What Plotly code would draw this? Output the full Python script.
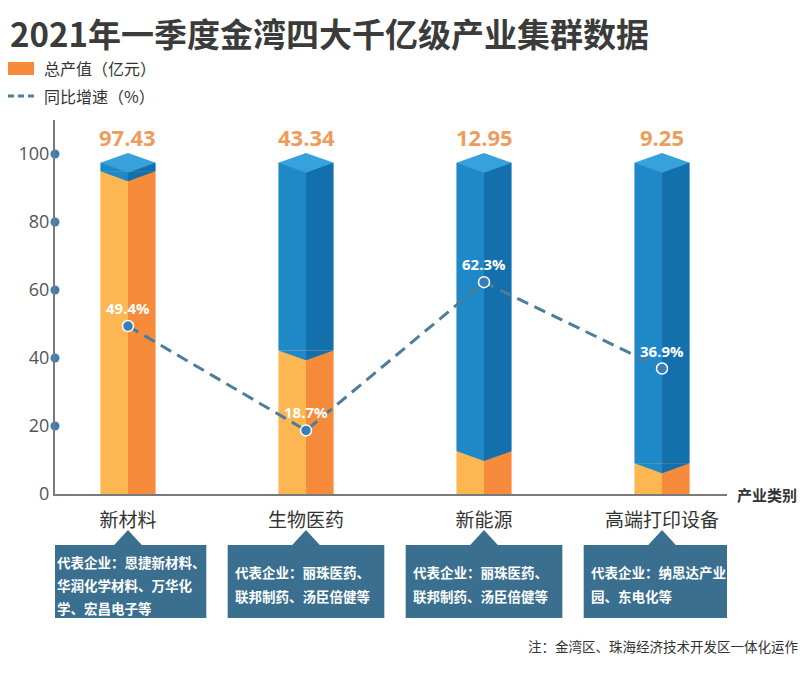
import plotly.graph_objects as go

# ---------------- data ----------------
categories = ["新材料", "生物医药", "新能源", "高端打印设备"]
output_value = [97.43, 43.34, 12.95, 9.25]          # 总产值（亿元）
output_labels = ["97.43", "43.34", "12.95", "9.25"]
growth_rate = [49.4, 18.7, 62.3, 36.9]               # 同比增速（%）
growth_labels = ["49.4%", "18.7%", "62.3%", "36.9%"]
y_ticks = [0, 20, 40, 60, 80, 100]
tick_dots = [20, 40, 60, 80, 100]
enterprises = [
    ["代表企业：恩捷新材料、", "华润化学材料、万华化", "学、宏昌电子等"],
    ["代表企业：丽珠医药、", "联邦制药、汤臣倍健等"],
    ["代表企业：丽珠医药、", "联邦制药、汤臣倍健等"],
    ["代表企业：纳思达产业", "园、东电化等"],
]
title_text = "2021年一季度金湾四大千亿级产业集群数据"
note_text = "注：金湾区、珠海经济技术开发区一体化运作"

# ---------------- style ----------------
FONT = "Noto Sans CJK SC, Noto Sans, sans-serif"
NUMFONT = "Open Sans, Noto Sans, sans-serif"
COL_H = 97.4        # height of the column "tube"
DEPTH = 2.9         # isometric depth (y units)
BAR_W = 0.31
HALF = BAR_W / 2
ORANGE_L, ORANGE_R = "#FDB752", "#F68B3B"
BLUE_L, BLUE_R, BLUE_TOP = "#1F88C7", "#1470AD", "#36A1DA"
LINE_C, DOT_C = "#4C7E9B", "#3B7DB6"
BOX_C = "#3A6F90"
X_RANGE = [-0.41, 3.365]
Y_RANGE = [0, 110]
OFF = 8  # page body offset of the figure div

xs = list(range(len(categories)))
left_x = [i - HALF / 2 for i in xs]
right_x = [i + HALF / 2 for i in xs]
orange_h = [v / 100 * COL_H for v in output_value]
blue_h = [COL_H - o for o in orange_h]

fig = go.Figure()
for xpos, oc, bc in [(left_x, ORANGE_L, BLUE_L), (right_x, ORANGE_R, BLUE_R)]:
    fig.add_trace(go.Bar(x=xpos, y=orange_h, width=HALF, marker=dict(color=oc, line=dict(width=0)),
                         hoverinfo="skip"))
    fig.add_trace(go.Bar(x=xpos, y=blue_h, base=orange_h, width=HALF,
                         marker=dict(color=bc, line=dict(width=0)), hoverinfo="skip"))

shapes = []
for i, o in zip(xs, orange_h):
    xl, xc, xr = i - HALF, i, i + HALF
    shapes.append(dict(type="path", xref="x", yref="y", layer="above",
                       path=f"M {xl},{o} L {xc},{o} L {xc},{o - DEPTH} Z",
                       fillcolor=BLUE_L, line=dict(width=0)))
    shapes.append(dict(type="path", xref="x", yref="y", layer="above",
                       path=f"M {xc},{o} L {xr},{o} L {xc},{o - DEPTH} Z",
                       fillcolor=BLUE_R, line=dict(width=0)))
    shapes.append(dict(type="path", xref="x", yref="y", layer="above",
                       path=f"M {xl},{COL_H} L {xc},{COL_H + DEPTH} L {xr},{COL_H} L {xc},{COL_H - DEPTH} Z",
                       fillcolor=BLUE_TOP, line=dict(width=0)))

# tick dots on y axis
fig.add_trace(go.Scatter(x=[X_RANGE[0]] * len(tick_dots), y=tick_dots, mode="markers",
                         marker=dict(size=9, color=DOT_C), cliponaxis=False, hoverinfo="skip"))

# growth line
fig.add_trace(go.Scatter(x=xs, y=growth_rate, mode="lines+markers",
                         line=dict(color=LINE_C, width=3, dash="12px,7px"),
                         marker=dict(size=11, color=DOT_C, line=dict(color="white", width=1.5)),
                         cliponaxis=False, hoverinfo="skip"))

annotations = []
for i, lab in zip(xs, output_labels):
    annotations.append(dict(x=i, y=COL_H + DEPTH, xref="x", yref="y", text=f"<b>{lab}</b>",
                            showarrow=False, yanchor="bottom", yshift=-1,
                            font=dict(family=NUMFONT, size=22, color="#EE9C5C")))
for i, g, lab in zip(xs, growth_rate, growth_labels):
    annotations.append(dict(x=i, y=g, xref="x", yref="y", text=lab, showarrow=False,
                            yanchor="bottom", yshift=6,
                            font=dict(family=NUMFONT, size=15, color="white", weight="bold")))

annotations.append(dict(x=1, y=0, xref="paper", yref="y", xanchor="left", yanchor="middle",
                        xshift=8, text="<b>产业类别</b>", showarrow=False,
                        font=dict(family=FONT, size=15, color="#333333")))

# screen-pixel helpers (screen coordinates of the plot area)
PW, PH, PL, PB = 672.0, 374.0, 55.0, 494.0
UNIT_PX = PW / (X_RANGE[1] - X_RANGE[0])
def px(xp):
    return (xp - PL) / PW
def py(yp):
    return (PB - yp) / PH

# legend (manual)
shapes.append(dict(type="rect", xref="paper", yref="paper", x0=px(8), x1=px(34), y0=py(75), y1=py(62),
                   fillcolor="#F7893A", line=dict(width=0)))
shapes.append(dict(type="line", xref="paper", yref="paper", x0=px(8), x1=px(35), y0=py(96), y1=py(96),
                   line=dict(color=LINE_C, width=3, dash="6px,4px")))
annotations.append(dict(x=px(42), y=py(68), xref="paper", yref="paper", xanchor="left", yanchor="middle",
                        text="总产值（亿元）", showarrow=False, font=dict(family=FONT, size=16, color="#333333")))
annotations.append(dict(x=px(42), y=py(96), xref="paper", yref="paper", xanchor="left", yanchor="middle",
                        text="同比增速（%）", showarrow=False, font=dict(family=FONT, size=16, color="#333333")))

# callout boxes
BOX_HALF = 0.44
for i, lines in zip(xs, enterprises):
    shapes.append(dict(type="rect", xref="x", yref="paper", x0=i - BOX_HALF, x1=i + BOX_HALF,
                       y0=py(618), y1=py(545), fillcolor=BOX_C, line=dict(width=0)))
    shapes.append(dict(type="path", xref="x", yref="paper",
                       path=f"M {i - 0.08},{py(545.5)} L {i},{py(530)} L {i + 0.08},{py(545.5)} Z",
                       fillcolor=BOX_C, line=dict(width=0)))
    ys = [562, 585, 608] if len(lines) == 3 else [572, 596]
    for t, yy in zip(lines, ys):
        annotations.append(dict(x=i, y=py(yy), xref="x", yref="paper", xanchor="left",
                                yanchor="middle", xshift=-BOX_HALF * UNIT_PX + 5, text=t, showarrow=False,
                                font=dict(family=FONT, size=13.5, color="white", weight="bold")))

annotations.append(dict(x=px(800), y=py(646), xref="paper", yref="paper", xanchor="right",
                        yanchor="middle", text=note_text, showarrow=False,
                        font=dict(family=FONT, size=13.5, color="#333333")))

fig.update_layout(
    width=812, height=674, autosize=False,
    margin=dict(l=PL - OFF, r=812 - (PL + PW) + OFF, t=(PB - PH) - OFF, b=674 - PB + OFF),
    paper_bgcolor="white", plot_bgcolor="white",
    barmode="overlay", showlegend=False,
    title=dict(text=f"<b>{title_text}</b>", x=(10 - OFF) / 812, xanchor="left", xref="container",
               y=1 - (35 - OFF) / 674, yanchor="middle", yref="container",
               font=dict(family=FONT, size=33, color="#3B3B3B")),
    xaxis=dict(range=X_RANGE, tickvals=xs, ticktext=categories, showgrid=False, zeroline=False,
               showline=True, linecolor="#7A7A7A", linewidth=2, ticks="", ticklabelstandoff=8,
               tickfont=dict(family=FONT, size=19, color="#333333"), fixedrange=True),
    yaxis=dict(range=Y_RANGE, tickvals=y_ticks, showgrid=False, zeroline=False,
               showline=True, linecolor="#7A7A7A", linewidth=2, ticks="",
               tickfont=dict(family=NUMFONT, size=18, color="#555555"), fixedrange=True),
    shapes=shapes, annotations=annotations,
)

fig.write_html("out.html")
